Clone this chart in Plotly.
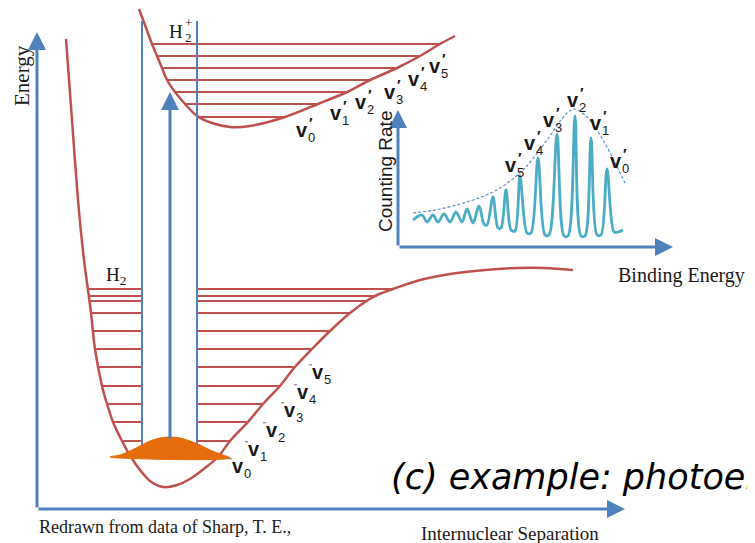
import plotly.graph_objects as go

W, H = 755, 543
OFF = 8  # page body margin of the html page

# ---------------- data (diagram read in picture units) ----------------
# H2 (ground state) potential curve
H2_CURVE_X = [66, 72, 78, 84, 88, 91, 95, 102, 107, 113, 122, 131, 140, 150, 163, 177, 190, 205, 218, 230, 248, 263, 280, 294, 312, 330, 350, 368, 377, 393, 420, 450, 485, 517, 545, 573]
H2_CURVE_Y = [39, 120, 200, 260, 290, 313, 349, 386, 404, 422, 441, 457, 470, 481, 487, 485, 479, 468, 457, 441, 422, 404, 386, 368, 349, 331, 313, 300, 295, 289, 280, 274, 270, 268, 268, 270]

# H2 vibrational levels (energy, left end, right end)
H2_LEVEL_Y = [289, 296, 301, 313, 331, 349, 367, 386, 404, 422, 441, 457]
H2_LEVEL_XL = [88, 88, 89, 91, 93, 95, 98, 102, 107, 113, 122, 131]
H2_LEVEL_XR = [393, 377, 368, 350, 330, 312, 294, 280, 263, 248, 230, 218]

# H2+ potential curve
H2P_CURVE_X = [139, 145, 152, 157, 162, 167, 175, 185, 197, 212, 230, 250, 285, 318, 347, 370, 397, 420, 440, 455]
H2P_CURVE_Y = [9, 25, 44, 56, 68, 80, 92, 104, 116, 123, 127, 126, 117, 104, 92, 80, 68, 56, 44, 36]

# H2+ vibrational levels
H2P_LEVEL_Y = [44, 56, 68, 80, 92, 104, 117]
H2P_LEVEL_XL = [152, 157, 162, 167, 175, 185, 197]
H2P_LEVEL_XR = [440, 420, 397, 370, 347, 318, 285]

# Franck-Condon box (blue) and ground-state wavefunction (orange)
BOX_X = [142, 142, 197, 197]
BOX_Y = [21, 457, 457, 21]
WAVE_X = [110, 120, 130, 140, 150, 160, 170, 180, 190, 200, 210, 220, 230]
WAVE_Y = [457, 455, 451, 446, 441, 438, 437, 438, 441, 445, 450, 454, 458]

# Photoelectron spectrum (inset)
SPEC_X = [413, 422, 427, 433, 438, 444, 450, 456, 462, 467, 473, 479, 484, 487, 493, 498, 501, 506, 511, 515, 520, 527, 531, 538, 545, 549, 557, 564, 568, 575, 581, 585, 591, 597, 601, 607, 614, 618, 623]
SPEC_Y = [220, 215, 222, 215, 222, 214, 222, 212, 222, 209, 223, 206, 224, 225, 197, 228, 228, 190, 230, 231, 176, 233, 233, 158, 235, 235, 134, 236, 236, 116, 236, 236, 138, 235, 235, 169, 232, 232, 230]
ENV_X = [413, 440, 470, 493, 510, 525, 547, 567, 575, 587, 603, 625]
ENV_Y = [213, 209, 201, 192, 181, 168, 140, 113, 109, 117, 140, 183]

# Arrows: (tip_x, tip_y, tail_x, tail_y, width)
ARROWS = [
    (37, 32, 37, 509, 3),      # Energy axis
    (625, 509, 37, 509, 3),    # Internuclear separation axis
    (170, 92, 170, 440, 3),    # ionisation arrow
    (398, 110, 398, 247, 3),   # counting rate axis
    (673, 247, 398, 247, 3),   # binding energy axis
]

# Labels v'' on H2 curve
VPP_X = [238, 254, 272, 290, 303, 318]
VPP_Y = [466, 449, 430, 410, 392, 372]
# Labels v' on H2+ curve
VP_X = [302, 336, 361, 390, 414, 435]
VP_Y = [130, 113, 102, 92, 79, 66]
# Labels v' on spectrum (index, x, y)
VS_IDX = [5, 4, 3, 2, 1, 0]
VS_X = [511, 530, 549, 573, 596, 616]
VS_Y = [165, 143, 120, 100, 123, 161]

RED = "#c0504d"
BLUE = "#4f81bd"
CYAN = "#4bacc6"
ORANGE = "#e46c0a"

fig = go.Figure()

def segs(xl, xr, ys, gap=None):
    xs, yy = [], []
    for a, b, y in zip(xl, xr, ys):
        if gap is None:
            xs += [a, b, None]
            yy += [y, y, None]
        else:
            g0, g1 = gap
            xs += [a, g0, None, g1, b, None]
            yy += [y, y, None, y, y, None]
    return xs, yy

lx, ly = segs(H2_LEVEL_XL, H2_LEVEL_XR, H2_LEVEL_Y, gap=(BOX_X[0], BOX_X[2]))
fig.add_trace(go.Scatter(x=lx, y=ly, mode="lines", line=dict(color=RED, width=2), hoverinfo="skip"))
ux, uy = segs(H2P_LEVEL_XL, H2P_LEVEL_XR, H2P_LEVEL_Y)
fig.add_trace(go.Scatter(x=ux, y=uy, mode="lines", line=dict(color=RED, width=2), hoverinfo="skip"))

fig.add_trace(go.Scatter(x=H2_CURVE_X, y=H2_CURVE_Y, mode="lines",
                         line=dict(color=RED, width=2.5, shape="spline", smoothing=0.8), hoverinfo="skip"))
fig.add_trace(go.Scatter(x=H2P_CURVE_X, y=H2P_CURVE_Y, mode="lines",
                         line=dict(color=RED, width=2.5, shape="spline", smoothing=0.8), hoverinfo="skip"))

fig.add_trace(go.Scatter(x=BOX_X, y=BOX_Y, mode="lines", line=dict(color=BLUE, width=2), hoverinfo="skip"))

fig.add_trace(go.Scatter(x=WAVE_X + [WAVE_X[0]], y=WAVE_Y + [WAVE_Y[0]], mode="lines", fill="toself",
                         fillcolor=ORANGE, line=dict(color=ORANGE, width=1, shape="spline"), hoverinfo="skip"))

fig.add_trace(go.Scatter(x=ENV_X, y=ENV_Y, mode="lines",
                         line=dict(color="#5b8fd0", width=1.2, dash="3px,2px", shape="spline"), hoverinfo="skip"))
fig.add_trace(go.Scatter(x=SPEC_X, y=SPEC_Y, mode="lines",
                         line=dict(color=CYAN, width=2.8, shape="spline", smoothing=0.9), hoverinfo="skip"))

ann = []
for tx, ty, sx, sy, w in ARROWS:
    ann.append(dict(x=tx, y=ty, ax=sx, ay=sy, xref="x", yref="y", axref="x", ayref="y",
                    text="", showarrow=True, arrowhead=2, arrowsize=1.2, arrowwidth=w,
                    arrowcolor=BLUE, standoff=0, startstandoff=0))

serif = "Liberation Serif"
sans = "Liberation Sans"

def txt(x, y, s, size, family=serif, color="#1a1a1a", xanchor="center", angle=0, yanchor="middle"):
    ann.append(dict(x=x, y=y, xref="x", yref="y", text=s, showarrow=False, textangle=angle,
                    font=dict(family=family, size=size, color=color), xanchor=xanchor, yanchor=yanchor,
                    borderpad=0))

txt(22, 76, "Energy", 21, angle=-90)
txt(176, 31, "H", 19)
txt(188, 22, "+", 13)
txt(188, 37, "2", 13)
txt(116, 276, "H<sub>2</sub>", 19)
txt(385, 172, "Counting Rate", 19, family=sans, angle=-90)
txt(617, 275, "Binding Energy", 20, xanchor="left")
txt(420, 533, "Internuclear Separation", 19, xanchor="left")
txt(38, 527, "Redrawn from data of Sharp, T. E.,", 18, xanchor="left")
txt(390, 477, "<i>(c) example: photoelectron spectroscopy</i>", 35, family="DejaVu Sans", color="#000000", xanchor="left")

def vlabel(x, y, idx, prime):
    txt(x, y, "<b>v</b>", 20, family=sans)
    txt(x + 9, y + 7, str(idx), 13, family=sans)
    if prime == "'":
        txt(x + 9, y - 8, "<b>′</b>", 15, family=sans)
    else:
        txt(x - 8, y - 6, "\"", 8, family=sans)

for i, (x, y) in enumerate(zip(VPP_X, VPP_Y)):
    vlabel(x, y, i, '"')
for i, (x, y) in enumerate(zip(VP_X, VP_Y)):
    vlabel(x, y, i, "'")
for i, x, y in zip(VS_IDX, VS_X, VS_Y):
    vlabel(x, y, i, "'")

fig.update_layout(
    width=W, height=H, margin=dict(l=0, r=0, t=0, b=0),
    paper_bgcolor="white", plot_bgcolor="white", showlegend=False,
    xaxis=dict(range=[OFF, W + OFF], visible=False, fixedrange=True),
    yaxis=dict(range=[H + OFF, OFF], visible=False, fixedrange=True),
    annotations=ann,
)
fig.write_html("out.html")
